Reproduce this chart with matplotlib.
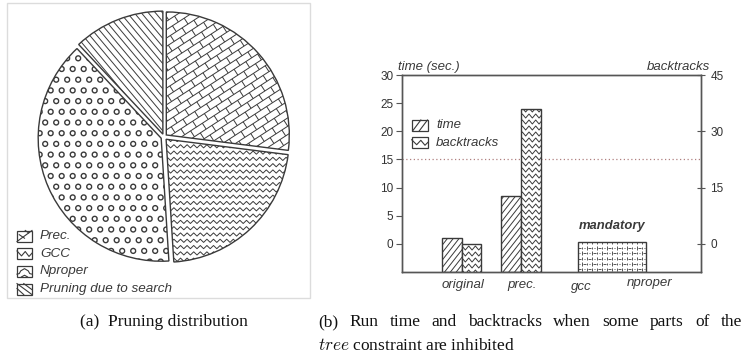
import numpy as np
import matplotlib.pyplot as plt
from matplotlib.collections import LineCollection
from matplotlib.patches import Rectangle
from matplotlib.lines import Line2D
from matplotlib.transforms import IdentityTransform, blended_transform_factory

plt.rcParams['font.family'] = ['Liberation Sans', 'DejaVu Sans']
plt.rcParams['mathtext.fontset'] = 'cm'

W, H = 743, 361
ink = '#3a3a3a'

# (a) pie
pie_labels = ['Prec.', 'GCC', 'Nproper', 'Pruning due to search']
pie_share = [27, 22, 39, 12]

# (b) bars
categories = ['original', 'prec.', 'gcc', 'nproper']
time_sec = [1.0, 8.5]          # original, prec.
backtracks = [0.0, 36.0]       # original, prec.
mandatory_top = 0.25
time_ticks = [0, 5, 10, 15, 20, 25, 30]
bt_ticks = [0, 15, 30, 45]
time_limit = 15

caption_a = '(a)  Pruning distribution'
caption_b1 = '(b) Run time and backtracks when some parts of the'
caption_b2 = r'$\mathit{tree}$ constraint are inhibited'


def fx(x):
    return x / W


def fy(y):
    return 1 - y / H


# ---- pattern helpers (pixel coords, y up) ----
def hatch(bb, ang, gap):
    x0, y0, x1, y1 = bb
    c = np.array([(x0 + x1) / 2, (y0 + y1) / 2])
    R = np.hypot(x1 - x0, y1 - y0) / 2 + gap
    a = np.radians(ang)
    d = np.array([np.cos(a), np.sin(a)])
    n = np.array([-np.sin(a), np.cos(a)])
    return [[c + n * k - d * R, c + n * k + d * R] for k in np.arange(-R, R, gap)]


def bricks(bb, ang, L, h):
    x0, y0, x1, y1 = bb
    c = np.array([(x0 + x1) / 2, (y0 + y1) / 2])
    R = np.hypot(x1 - x0, y1 - y0) / 2 + L
    a = np.radians(ang)
    d = np.array([np.cos(a), np.sin(a)])
    n = np.array([-np.sin(a), np.cos(a)])
    segs = []
    for i, v in enumerate(np.arange(-R, R, h)):
        segs.append([c - d * R + n * v, c + d * R + n * v])
        for u in np.arange(-R + (i % 2) * L / 2, R, L):
            segs.append([c + d * u + n * v, c + d * u + n * (v + h)])
    return segs


def zigzag(bb, period, amp, gap):
    x0, y0, x1, y1 = bb
    xs = np.arange(x0 - period, x1 + period, period / 2)
    sign = np.where(np.arange(len(xs)) % 2 == 0, 1, -1)
    return [np.column_stack([xs, y + amp / 2 * sign])
            for y in np.arange(y0 - gap, y1 + gap, gap)]


def rings(bb, sx, sy, r):
    x0, y0, x1, y1 = bb
    t = np.linspace(0, 2 * np.pi, 14)
    segs = []
    for i, y in enumerate(np.arange(y0 - sy, y1 + sy, sy)):
        for x in np.arange(x0 - sx + (i % 2) * sx / 2, x1 + sx, sx):
            segs.append(np.column_stack([x + r * np.cos(t), y + r * np.sin(t)]))
    return segs


def dashes(bb, sx, h):
    x0, y0, x1, y1 = bb
    segs = []
    for i, y in enumerate(np.arange(y0 - h, y1 + h, h)):
        for x in np.arange(x0 - sx + (i % 2) * sx / 2, x1 + sx, sx):
            segs.append([(x, y + 0.9), (x, y + h - 0.9)])
            segs.append([(x + 1.6, y + h / 2), (x + sx / 2 - 0.6, y + h / 2)])
            segs.append([(x + sx / 2 + 0.6, y + h / 2 - 1.2), (x + sx / 2 + 0.6, y + h / 2 + 1.2)])
            segs.append([(x + sx / 2 + 1.8, y + h / 2), (x + sx - 1.6, y + h / 2)])
    return segs


def add_pattern(ax, segs, clip, lw=0.7):
    lc = LineCollection(segs, colors=ink, linewidths=lw,
                        transform=IdentityTransform(), zorder=2)
    ax.add_collection(lc, autolim=False)
    lc.set_clip_path(clip)


def bbox_of(ax):
    e = ax.bbox.extents
    return (e[0], e[1], e[2], e[3])


def icon(x, ytop, w, h, shapes):
    fig.add_artist(Rectangle((fx(x), fy(ytop + h)), w / W, h / H, fill=False,
                             edgecolor=ink, lw=0.9, transform=fig.transFigure))
    for pts in shapes:
        pts = np.asarray(pts, float)
        fig.add_artist(Line2D(fx(x + pts[:, 0] * w), fy(ytop + (1 - pts[:, 1]) * h),
                              color=ink, lw=0.8, transform=fig.transFigure))


def justified(text, x0, x1, y, **kw):
    # spread the words of one caption line over [x0, x1] pixels
    r = fig.canvas.get_renderer()
    words = text.split()
    arts = [fig.text(0, fy(y), w, **kw) for w in words]
    widths = [a.get_window_extent(r).width for a in arts]
    gap = (x1 - x0 - sum(widths)) / (len(words) - 1)
    xx = x0
    for a, wd in zip(arts, widths):
        a.set_x(fx(xx))
        xx += wd + gap


fig = plt.figure(figsize=(W / 100, H / 100), dpi=100)

# ================= (a) pie =================
fig.add_artist(Rectangle((fx(7), fy(298)), 303 / W, 295 / H, fill=False,
                         edgecolor='#dcdcdc', lw=1, transform=fig.transFigure))

R_px = 123
cx, cy = 164, 137
side = 2.2 * R_px
axp = fig.add_axes([fx(cx - side / 2), fy(cy + side / 2), side / W, side / H])
explode = [0.025] * len(pie_share)
wedges, _ = axp.pie(pie_share, startangle=90, counterclock=False, explode=explode,
                    wedgeprops=dict(facecolor='white', edgecolor='none'))
axp.pie(pie_share, startangle=90, counterclock=False, explode=explode,
        wedgeprops=dict(fill=False, edgecolor=ink, linewidth=1, zorder=3))
axp.set_xlim(-1.1, 1.1)
axp.set_ylim(-1.1, 1.1)
axp.set_aspect('auto')

bb = bbox_of(axp)
add_pattern(axp, bricks(bb, 33, 14, 7), wedges[0])
add_pattern(axp, zigzag(bb, 6.6, 3.2, 6.3), wedges[1])
add_pattern(axp, rings(bb, 11, 10.7, 2.5), wedges[2], lw=1.0)
add_pattern(axp, hatch(bb, -50, 5.4), wedges[3])

pie_icons = [
    [[(0, 0), (1, 1)], [(0.15, 0.62), (0.5, 0.3)], [(0.55, 1), (0.78, 0.78)]],
    [[(0, 0.75), (0.3, 0.3), (0.55, 0.7), (0.8, 0.25), (1, 0.55)]],
    [[(0, 0.25), (0.15, 0.3), (0.25, 0.55), (0.5, 0.75), (0.75, 0.55), (0.85, 0.3), (1, 0.25)],
     [(0.3, 0), (0.5, 0.15), (0.7, 0)]],
    [[(0, 1), (1, 0)], [(0.45, 1), (1, 0.45)], [(0, 0.55), (0.45, 0)]],
]
for i, (lab, shp) in enumerate(zip(pie_labels, pie_icons)):
    yc = 236 + i * 17.7
    icon(17, yc - 5.5, 15, 11, shp)
    fig.text(fx(40), fy(yc), lab, style='italic', size=9.7, color=ink, va='center', ha='left')

# ================= (b) bars =================
axb = fig.add_axes([fx(401.7), fy(272), 299 / W, 197 / H])
axb.set_xlim(-1, 4)
axb.set_ylim(-5, 30)
ax2 = axb.twinx()
ax2.set_ylim(-7.5, 45)

axb.axhline(time_limit, color='#b08080', ls=(0, (1, 2)), lw=0.9, zorder=0.5)

x = np.arange(len(time_sec))
bw = 1 / 3
tb = axb.bar(x - bw / 2, np.array(time_sec) + 5, bottom=-5, width=bw,
             facecolor='white', edgecolor='none', zorder=1)
axb.bar(x - bw / 2, np.array(time_sec) + 5, bottom=-5, width=bw,
        fill=False, edgecolor=ink, lw=1, zorder=3)
bb2 = bbox_of(axb)
for r in tb:
    add_pattern(axb, hatch(bb2, 52, 4.6), r)

bt = ax2.bar(x + bw / 2, np.array(backtracks) + 7.5, bottom=-7.5, width=bw,
             facecolor='white', edgecolor='none', zorder=1)
ax2.bar(x + bw / 2, np.array(backtracks) + 7.5, bottom=-7.5, width=bw,
        fill=False, edgecolor=ink, lw=1, zorder=3)
for r in bt:
    add_pattern(ax2, zigzag(bb2, 6.7, 4, 6), r)

mb = axb.bar(2.52, mandatory_top + 5, bottom=-5, width=1.14,
             facecolor='white', edgecolor='none', zorder=1)
axb.bar(2.52, mandatory_top + 5, bottom=-5, width=1.14,
        fill=False, edgecolor=ink, lw=1, zorder=3)
add_pattern(axb, dashes(bb2, 10, 5.4), mb[0], lw=0.6)
axb.text(2.52, 3.1, 'mandatory', ha='center', va='center', weight='bold',
         style='italic', size=9.4, color=ink)

for a in (axb, ax2):
    for s in a.spines.values():
        s.set_color('#555555')
        s.set_linewidth(1)
    a.set_xticks([])
axb.set_yticks(time_ticks)
axb.tick_params(axis='y', direction='out', length=4, width=0.8, color='#555555',
                labelsize=8.5, labelcolor='#333333', pad=2)
ax2.set_yticks(bt_ticks)
ax2.tick_params(axis='y', direction='inout', length=6, width=0.8, color='#555555',
                labelsize=8.5, labelcolor='#333333', pad=4)

lab_dx = [0.02, 0.02, 0.0, 0.14]
lab_y = [285, 285, 287, 283]
tr = blended_transform_factory(axb.transData, fig.transFigure)
for i, c in enumerate(categories):
    axb.text(i + lab_dx[i], fy(lab_y[i]), c, transform=tr, ha='center', va='center',
             style='italic', size=9.5, color=ink, clip_on=False)

fig.text(fx(398), fy(67), 'time (sec.)', style='italic', size=9.5, color=ink,
         ha='left', va='center')
fig.text(fx(710), fy(67), 'backtracks', style='italic', size=9.5, color=ink,
         ha='right', va='center')

icon(411.7, 120, 16.6, 11, [[(0.05, 0), (0.55, 1)], [(0.45, 0), (0.95, 1)]])
icon(411.7, 137, 16.6, 11, [[(0, 0.75), (0.3, 0.3), (0.55, 0.7), (0.8, 0.25), (1, 0.55)]])
fig.text(fx(436), fy(125.5), 'time', style='italic', size=9.5, color=ink, va='center')
fig.text(fx(436), fy(142.5), 'backtracks', style='italic', size=9.5, color=ink, va='center')

# captions
cap = dict(family=['Liberation Serif', 'DejaVu Serif'], size=12.5, color='#111111', va='center')
fig.text(fx(80), fy(322), caption_a, **cap)
justified(caption_b1, 318, 742, 322, **cap)
fig.text(fx(318), fy(346), caption_b2, **cap)

fig.savefig('out.png', dpi=100)
